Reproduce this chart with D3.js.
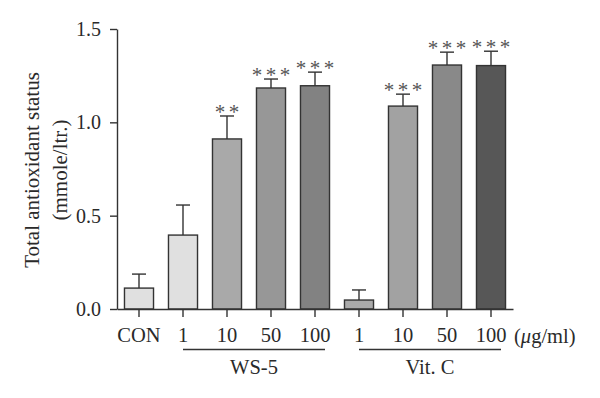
<!DOCTYPE html>
<html>
<head>
<meta charset="utf-8">
<script src="https://cdn.jsdelivr.net/npm/d3@7"></script>
<style>
  html, body { margin: 0; padding: 0; background: #fff; }
  svg { display: block; }
  text { font-family: "Liberation Serif", "Times New Roman", serif; fill: #2a2a2a; }
</style>
</head>
<body>
<svg id="chart" width="600" height="398"></svg>
<script>
// ---- data ----
const categories = ["CON", "1", "10", "50", "100", "1", "10", "50", "100"];
const values     = [0.112, 0.396, 0.911, 1.184, 1.196, 0.048, 1.087, 1.307, 1.304];
const errors     = [0.075, 0.161, 0.123, 0.048, 0.073, 0.054, 0.064, 0.069, 0.077];
const stars      = ["", "", "**", "***", "***", "", "***", "***", "***"];
const groupNames = ["WS-5", "Vit. C"];
const groupSpans = [[1, 4], [5, 8]];
const yTicks     = [0, 0.5, 1.0, 1.5];

// ---- style ----
const fills = ["#e0e0e0", "#e0e0e0", "#a9a9a9", "#979797", "#828282",
               "#aaaaaa", "#a2a2a2", "#898989", "#575757"];
const ink = "#333";

const svg = d3.select("#chart");
const mLeft = 117, mRight = 513, mTop = 29, mBottom = 309;

const x = d3.scaleBand().domain(d3.range(categories.length))
  .range([mLeft, mRight]).paddingInner(0.34).paddingOuter(0.17);
const y = d3.scaleLinear().domain([0, 1.5]).range([mBottom, mTop]);

// bars
const g = svg.append("g");
g.selectAll("rect.bar").data(values).join("rect")
  .attr("class", "bar")
  .attr("x", (d, i) => x(i))
  .attr("width", x.bandwidth())
  .attr("y", d => y(d))
  .attr("height", d => y(0) - y(d))
  .attr("fill", (d, i) => fills[i])
  .attr("stroke", ink).attr("stroke-width", 1.4);

// error bars
const capW = 14;
values.forEach((v, i) => {
  const cx = x(i) + x.bandwidth() / 2;
  g.append("line").attr("x1", cx).attr("x2", cx)
    .attr("y1", y(v)).attr("y2", y(v + errors[i]))
    .attr("stroke", ink).attr("stroke-width", 1.4);
  g.append("line").attr("x1", cx - capW / 2).attr("x2", cx + capW / 2)
    .attr("y1", y(v + errors[i])).attr("y2", y(v + errors[i]))
    .attr("stroke", ink).attr("stroke-width", 1.4);
  if (stars[i]) {
    g.append("text")
      .attr("x", cx).attr("y", y(v + errors[i]) + 3)
      .attr("text-anchor", "middle")
      .style("font-size", "21px")
      .style("fill", "#555")
      .text(stars[i].split("").join("\u2006"));
  }
});

// y axis
const yAxis = svg.append("g").attr("transform", `translate(${mLeft},0)`)
  .call(d3.axisLeft(y).tickValues(yTicks).tickFormat(d3.format(".1f"))
        .tickSizeInner(7).tickSizeOuter(0).tickPadding(9));
yAxis.selectAll("path, line").attr("stroke", ink).attr("stroke-width", 1.4);
yAxis.selectAll("text").style("font-size", "20px")
  .style("font-family", "'Liberation Serif', serif").attr("fill", "#2a2a2a");

// x axis
const xAxis = svg.append("g").attr("transform", `translate(0,${mBottom})`)
  .call(d3.axisBottom(x).tickFormat(i => categories[i])
        .tickSizeInner(8).tickSizeOuter(0).tickPadding(10));
xAxis.selectAll("path, line").attr("stroke", ink).attr("stroke-width", 1.4);
xAxis.selectAll("text").style("font-size", "20.5px")
  .style("font-family", "'Liberation Serif', serif").attr("fill", "#2a2a2a");

// group underline + names
groupSpans.forEach((s, k) => {
  const x1 = x(s[0]) + x.bandwidth() / 2, x2 = x(s[1]) + x.bandwidth() / 2 + 10;
  svg.append("line").attr("x1", x1).attr("x2", x2)
    .attr("y1", 349.5).attr("y2", 349.5)
    .attr("stroke", ink).attr("stroke-width", 1.4);
  svg.append("text").attr("x", (x1 + x2) / 2).attr("y", 374)
    .attr("text-anchor", "middle").style("font-size", "20.5px")
    .text(groupNames[k]);
});

// unit label
const unit = svg.append("text").attr("x", 514).attr("y", 343)
  .style("font-size", "20.5px");
unit.append("tspan").text("(");
unit.append("tspan").style("font-style", "italic").text("μ");
unit.append("tspan").text("g/ml)");

// y title
const yt = svg.append("text").attr("transform", "translate(0,170) rotate(-90)")
  .attr("text-anchor", "middle").style("font-size", "21px");
yt.append("tspan").attr("x", 0).attr("y", 39).text("Total antioxidant status");
yt.append("tspan").attr("x", 0).attr("y", 67).text("(mmole/ltr.)");
</script>
</body>
</html>
